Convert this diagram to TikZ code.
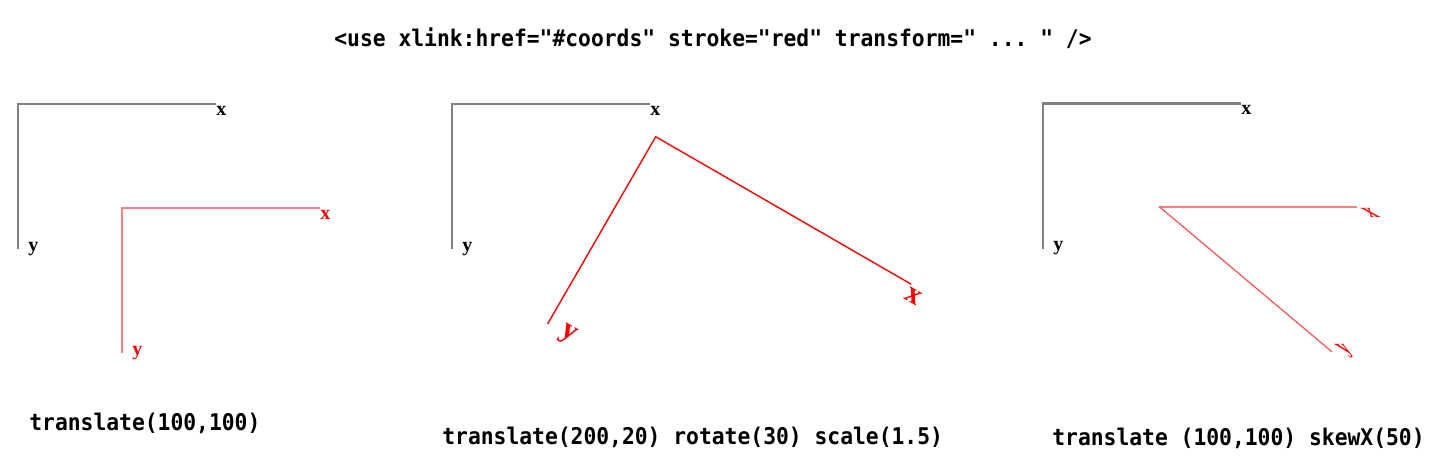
\documentclass[tikz,border=0pt]{standalone}
\usepackage{fontspec}
\setmainfont{Liberation Serif}
\setmonofont{DejaVu Sans Mono}
\definecolor{axisgrey}{RGB}{128,128,128}
\definecolor{lightred}{RGB}{255,128,128}
\definecolor{skewred}{RGB}{255,80,80}
\tikzset{
  greyaxis/.style={draw=axisgrey, line width=1.1pt},
  redaxis/.style={draw=lightred, line width=1.1pt},
  axislabel/.style={anchor=base west, inner sep=0pt, font=\bfseries\fontsize{10}{10}\selectfont},
  caption/.style={anchor=base west, inner sep=0pt, xscale=0.927, font=\ttfamily\bfseries\fontsize{11.5}{11.5}\selectfont},
}
\begin{document}
\begin{tikzpicture}[x=0.5pt,y=0.5pt,yscale=-1,xscale=1]
\useasboundingbox (0,0) rectangle (1442,468);
% Text Node
\node[caption] (head) at (334,46) {<use xlink:href="\#coords" stroke="red" transform=" ... " />};
%Straight Lines [grey coords, left]
\begin{scope}[shift={(18,104)}]
\draw[greyaxis] (198,0) -- (0,0) -- (0,145);
\node[axislabel] (gxA) at (198,11) {x};
\node[axislabel] (gyA) at (10,147) {y};
\end{scope}
%Straight Lines [red coords, translate]
\begin{scope}[shift={(122,208)}]
\draw[redaxis] (198,0) -- (0,0) -- (0,145);
\node[axislabel,text=red] (rxA) at (198,11) {x};
\node[axislabel,text=red] (ryA) at (10,147) {y};
\end{scope}
%Straight Lines [grey coords, middle]
\begin{scope}[shift={(452,104)}]
\draw[greyaxis] (198,0) -- (0,0) -- (0,145);
\node[axislabel] (gxB) at (198,11) {x};
\node[axislabel] (gyB) at (10,147) {y};
\end{scope}
%Straight Lines [red coords, rotate and scale]
\begin{scope}[shift={(655.7,136.7)},rotate=30,scale=1.49]
\draw[red,line width=0.7pt] (198,0) -- (0,0) -- (0,145);
\node[axislabel,text=red,rotate=-30,scale=1.5] (rxB) at (198,11) {x};
\node[axislabel,text=red,rotate=-30,scale=1.5] (ryB) at (10,147) {y};
\end{scope}
%Straight Lines [grey coords, right]
\begin{scope}[shift={(1043,103.5)}]
\draw[greyaxis] (198,0) -- (0,0) -- (0,145);
\node[axislabel] (gxC) at (198,11) {x};
\node[axislabel] (gyC) at (10,147) {y};
\end{scope}
%Straight Lines [red coords, skewX]
\begin{scope}[shift={(1159.3,206.7)},xslant=1.19]
\draw[redaxis] (198,0) -- (0,0);
\draw[skewred,line width=0.6pt] (0,0) -- (0,145);
\node[axislabel,text=red,xslant=-1.19] (rxC) at (198,11) {x};
\node[axislabel,text=red,xslant=-1.19] (ryC) at (10,147) {y};
\end{scope}
% Text Node
\node[caption] (capA) at (29,430) {translate(100,100)};
% Text Node
\node[caption] (capB) at (442,444) {translate(200,20) rotate(30) scale(1.5)};
% Text Node
\node[caption] (capC) at (1052,445) {translate (100,100) skewX(50)};
\end{tikzpicture}
\end{document}
